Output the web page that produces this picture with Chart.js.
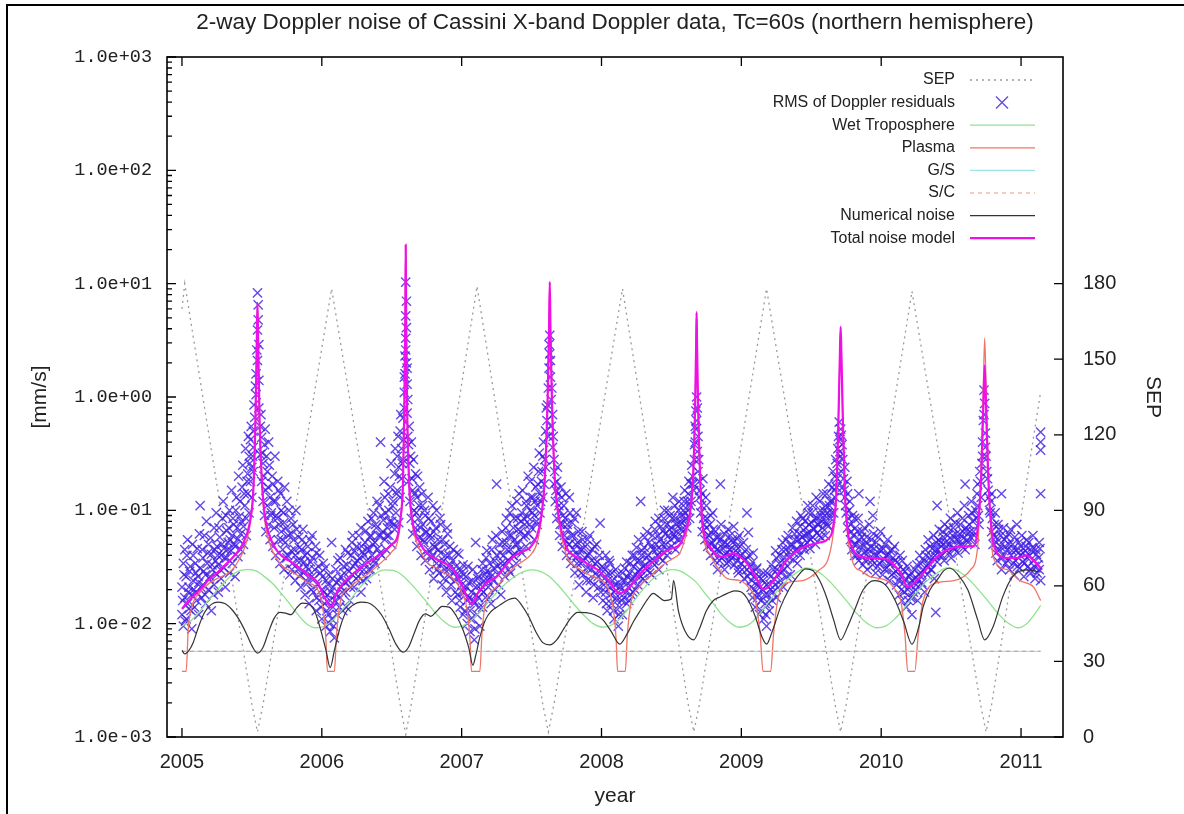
<!DOCTYPE html>
<html>
<head>
<meta charset="utf-8">
<title>Cassini Doppler noise</title>
<script src="https://cdn.jsdelivr.net/npm/chart.js@4.4.0/dist/chart.umd.min.js"></script>
<style>
  html, body { margin: 0; padding: 0; background: #fff; }
  #wrap { width: 1184px; height: 814px; }
</style>
</head>
<body>
<div id="wrap"><canvas id="myChart" width="1184" height="814"></canvas></div>
<script>
// tick labels
const yearTicks = [2005, 2006, 2007, 2008, 2009, 2010, 2011];
const decadeTicks = [1e-3, 1e-2, 1e-1, 1e0, 1e1, 1e2, 1e3];
const sepTicks = [0, 30, 60, 90, 120, 150, 180];

// Sun-Earth-Probe angle (deg), right axis
const sepYear = [2005.00, 2005.02, 2005.50, 2005.54, 2005.58, 2006.07, 2006.56, 2006.60, 2006.64, 2007.11, 2007.58, 2007.62, 2007.66,
  2008.15, 2008.62, 2008.66, 2008.70, 2009.18, 2009.67, 2009.71, 2009.75, 2010.22, 2010.71, 2010.75, 2010.79, 2011.14];
const sepValue = [170, 180, 13, 2, 13, 178, 13, 1, 13, 179, 13, 2, 13,
  178, 13, 2, 13, 178, 13, 2, 13, 177, 13, 2, 13, 137];

// total noise model (mm/s)
const totalYear = [2005.00, 2005.05, 2005.13, 2005.20, 2005.25, 2005.31, 2005.36, 2005.41, 2005.44, 2005.47, 2005.49, 2005.51, 2005.525, 2005.535, 2005.54, 2005.545, 2005.555, 2005.57, 2005.59, 2005.63, 2005.68, 2005.72, 2005.78, 2005.84, 2005.90, 2005.97,
  2006.02, 2006.07, 2006.10, 2006.13, 2006.20, 2006.26, 2006.32, 2006.38, 2006.44, 2006.50, 2006.54, 2006.565, 2006.58, 2006.59, 2006.597, 2006.60, 2006.603, 2006.61, 2006.625, 2006.645, 2006.70, 2006.76, 2006.82, 2006.88, 2006.94,
  2007.00, 2007.07, 2007.12, 2007.18, 2007.25, 2007.31, 2007.37, 2007.43, 2007.49, 2007.54, 2007.57, 2007.595, 2007.615, 2007.625, 2007.63, 2007.635, 2007.645, 2007.665, 2007.69, 2007.75, 2007.80, 2007.85, 2007.91, 2007.97,
  2008.05, 2008.13, 2008.20, 2008.27, 2008.33, 2008.39, 2008.44, 2008.50, 2008.56, 2008.60, 2008.635, 2008.655, 2008.67, 2008.677, 2008.68, 2008.683, 2008.69, 2008.705, 2008.72, 2008.78, 2008.84, 2008.90, 2008.94, 2008.99,
  2009.04, 2009.10, 2009.16, 2009.23, 2009.28, 2009.33, 2009.39, 2009.44, 2009.50, 2009.56, 2009.62, 2009.655, 2009.68, 2009.695, 2009.705, 2009.71, 2009.715, 2009.725, 2009.74, 2009.76, 2009.80, 2009.83, 2009.92,
  2010.04, 2010.10, 2010.14, 2010.19, 2010.24, 2010.28, 2010.34, 2010.40, 2010.46, 2010.52, 2010.60, 2010.66, 2010.69, 2010.715, 2010.73, 2010.74, 2010.75, 2010.765, 2010.79, 2010.83, 2010.90, 2010.97,
  2011.04, 2011.09, 2011.14];
const totalValue = [0.0135, 0.016, 0.020, 0.025, 0.028, 0.033, 0.038, 0.045, 0.052, 0.065, 0.085, 0.15, 0.6, 3.0, 6.8, 3.0, 0.6, 0.2, 0.095, 0.058, 0.044, 0.039, 0.035, 0.031, 0.027, 0.023,
  0.017, 0.014, 0.018, 0.021, 0.026, 0.030, 0.034, 0.038, 0.043, 0.050, 0.058, 0.09, 0.17, 0.8, 5, 22, 5, 0.8, 0.17, 0.085, 0.052, 0.041, 0.037, 0.034, 0.030,
  0.022, 0.015, 0.019, 0.023, 0.026, 0.032, 0.039, 0.043, 0.047, 0.060, 0.09, 0.2, 1.0, 4, 10.4, 4, 1.0, 0.2, 0.095, 0.047, 0.040, 0.037, 0.033, 0.030,
  0.024, 0.0185, 0.021, 0.027, 0.032, 0.037, 0.042, 0.046, 0.050, 0.065, 0.10, 0.2, 0.9, 3, 5.6, 3, 0.9, 0.2, 0.08, 0.047, 0.039, 0.040, 0.042, 0.039,
  0.034, 0.026, 0.020, 0.024, 0.030, 0.037, 0.043, 0.047, 0.050, 0.052, 0.056, 0.07, 0.15, 0.7, 2.5, 4.15, 2.5, 0.7, 0.15, 0.067, 0.045, 0.040, 0.038,
  0.037, 0.032, 0.028, 0.021, 0.023, 0.026, 0.032, 0.039, 0.044, 0.047, 0.048, 0.048, 0.07, 0.2, 0.8, 1.9, 0.8, 0.2, 0.067, 0.042, 0.038, 0.038,
  0.040, 0.036, 0.031];

// plasma noise (mm/s)
const plasmaYear = [2005.00, 2005.03, 2005.045, 2005.07, 2005.13, 2005.20, 2005.25, 2005.31, 2005.36, 2005.41, 2005.44, 2005.47, 2005.49, 2005.51, 2005.525, 2005.535, 2005.54, 2005.545, 2005.555, 2005.57, 2005.59, 2005.63, 2005.68, 2005.72, 2005.78, 2005.84, 2005.90, 2005.97,
  2006.01, 2006.03, 2006.04, 2006.09, 2006.105, 2006.13, 2006.20, 2006.26, 2006.32, 2006.38, 2006.44, 2006.50, 2006.54, 2006.565, 2006.58, 2006.59, 2006.597, 2006.60, 2006.603, 2006.61, 2006.625, 2006.645, 2006.70, 2006.76, 2006.82, 2006.88, 2006.94,
  2007.00, 2007.04, 2007.06, 2007.07, 2007.13, 2007.145, 2007.17, 2007.25, 2007.31, 2007.37, 2007.43, 2007.49, 2007.54, 2007.57, 2007.595, 2007.615, 2007.625, 2007.63, 2007.635, 2007.645, 2007.665, 2007.69, 2007.75, 2007.80, 2007.85, 2007.91, 2007.97,
  2008.05, 2008.09, 2008.105, 2008.115, 2008.17, 2008.185, 2008.21, 2008.27, 2008.33, 2008.39, 2008.44, 2008.50, 2008.56, 2008.60, 2008.635, 2008.655, 2008.67, 2008.677, 2008.68, 2008.683, 2008.69, 2008.705, 2008.72, 2008.78, 2008.84, 2008.90, 2008.99,
  2009.05, 2009.10, 2009.135, 2009.155, 2009.21, 2009.23, 2009.26, 2009.33, 2009.44, 2009.56, 2009.62, 2009.655, 2009.68, 2009.695, 2009.705, 2009.71, 2009.715, 2009.725, 2009.74, 2009.76, 2009.80, 2009.86, 2009.92,
  2010.04, 2010.10, 2010.14, 2010.17, 2010.19, 2010.24, 2010.265, 2010.30, 2010.40, 2010.52, 2010.64, 2010.69, 2010.715, 2010.73, 2010.74, 2010.75, 2010.765, 2010.80, 2010.90, 2010.99,
  2011.09, 2011.14];
const plasmaValue = [0.0038, 0.0038, 0.009, 0.014, 0.019, 0.023, 0.025, 0.027, 0.030, 0.037, 0.044, 0.058, 0.08, 0.14, 0.58, 2.9, 6.6, 2.9, 0.58, 0.19, 0.085, 0.050, 0.037, 0.032, 0.029, 0.026, 0.023, 0.020,
  0.013, 0.007, 0.0038, 0.0038, 0.008, 0.015, 0.021, 0.024, 0.027, 0.031, 0.036, 0.043, 0.052, 0.085, 0.16, 0.78, 4.9, 21.5, 4.9, 0.78, 0.16, 0.08, 0.045, 0.034, 0.031, 0.028, 0.025,
  0.019, 0.013, 0.007, 0.0038, 0.0038, 0.008, 0.015, 0.021, 0.026, 0.031, 0.035, 0.040, 0.052, 0.085, 0.19, 0.98, 3.9, 10.2, 3.9, 0.98, 0.19, 0.088, 0.040, 0.033, 0.030, 0.027, 0.025,
  0.020, 0.012, 0.007, 0.0038, 0.0038, 0.008, 0.015, 0.021, 0.025, 0.029, 0.033, 0.037, 0.042, 0.058, 0.095, 0.19, 0.88, 2.9, 5.5, 2.9, 0.88, 0.19, 0.075, 0.040, 0.030, 0.025, 0.024,
  0.021, 0.016, 0.008, 0.0038, 0.0038, 0.008, 0.016, 0.023, 0.024, 0.030, 0.037, 0.06, 0.14, 0.68, 2.4, 4.1, 2.4, 0.68, 0.14, 0.06, 0.034, 0.029, 0.026,
  0.024, 0.020, 0.016, 0.008, 0.0038, 0.0038, 0.008, 0.016, 0.023, 0.024, 0.030, 0.048, 0.25, 1.2, 3.3, 1.2, 0.25, 0.039, 0.030, 0.024,
  0.021, 0.016];

// wet troposphere (mm/s)
const wetYear = [2005.00, 2005.06, 2005.12, 2005.18, 2005.24, 2005.30, 2005.36, 2005.42, 2005.47, 2005.53, 2005.59, 2005.65, 2005.71, 2005.77, 2005.83, 2005.89, 2005.96,
  2006.02, 2006.08, 2006.14, 2006.20, 2006.26, 2006.32, 2006.38, 2006.45, 2006.51, 2006.57, 2006.63, 2006.69, 2006.75, 2006.81, 2006.88, 2006.95,
  2007.01, 2007.08, 2007.14, 2007.21, 2007.28, 2007.35, 2007.42, 2007.50, 2007.56, 2007.62, 2007.68, 2007.74, 2007.80, 2007.87, 2007.94,
  2008.01, 2008.07, 2008.13, 2008.19, 2008.25, 2008.31, 2008.37, 2008.43, 2008.50, 2008.56, 2008.62, 2008.68, 2008.74, 2008.80, 2008.86, 2008.92, 2008.98,
  2009.04, 2009.10, 2009.16, 2009.22, 2009.28, 2009.34, 2009.40, 2009.46, 2009.52, 2009.58, 2009.64, 2009.70, 2009.76, 2009.82, 2009.89, 2009.97,
  2010.03, 2010.09, 2010.15, 2010.21, 2010.27, 2010.33, 2010.40, 2010.47, 2010.53, 2010.59, 2010.65, 2010.71, 2010.77, 2010.83, 2010.90, 2010.98,
  2011.04, 2011.09, 2011.14];
const wetValue = [0.0095, 0.0105, 0.0125, 0.0155, 0.019, 0.023, 0.027, 0.0295, 0.030, 0.0292, 0.026, 0.0225, 0.0185, 0.015, 0.012, 0.010, 0.0092,
  0.0095, 0.0108, 0.013, 0.016, 0.020, 0.024, 0.0275, 0.0298, 0.0295, 0.027, 0.023, 0.019, 0.0155, 0.0125, 0.0103, 0.0093,
  0.0096, 0.011, 0.0132, 0.0165, 0.0205, 0.0245, 0.028, 0.0298, 0.029, 0.0265, 0.0225, 0.0185, 0.015, 0.012, 0.0100,
  0.0093, 0.0097, 0.011, 0.0135, 0.017, 0.021, 0.025, 0.028, 0.030, 0.0292, 0.0265, 0.023, 0.0185, 0.015, 0.012, 0.0102, 0.0093,
  0.0096, 0.011, 0.0135, 0.017, 0.021, 0.025, 0.0285, 0.031, 0.030, 0.027, 0.023, 0.019, 0.0155, 0.0125, 0.0103, 0.0092,
  0.0095, 0.0108, 0.013, 0.0163, 0.020, 0.024, 0.028, 0.031, 0.030, 0.027, 0.023, 0.019, 0.0155, 0.0125, 0.0103, 0.0092,
  0.0100, 0.0118, 0.0145];

// numerical noise (mm/s)
const numYear = [2005.00, 2005.02, 2005.05, 2005.08, 2005.12, 2005.16, 2005.21, 2005.26, 2005.31, 2005.36, 2005.41, 2005.46, 2005.50, 2005.54, 2005.58, 2005.62, 2005.66, 2005.70, 2005.74, 2005.78, 2005.82, 2005.86, 2005.90, 2005.95, 2005.99,
  2006.03, 2006.06, 2006.09, 2006.13, 2006.17, 2006.22, 2006.28, 2006.33, 2006.38, 2006.43, 2006.48, 2006.53, 2006.58, 2006.62, 2006.66, 2006.70, 2006.74, 2006.78, 2006.82, 2006.86, 2006.91, 2006.96,
  2007.01, 2007.05, 2007.08, 2007.10, 2007.13, 2007.17, 2007.21, 2007.27, 2007.33, 2007.38, 2007.43, 2007.48, 2007.53, 2007.58, 2007.63, 2007.68, 2007.73, 2007.78, 2007.83, 2007.89, 2007.95,
  2008.01, 2008.07, 2008.13, 2008.18, 2008.23, 2008.28, 2008.33, 2008.37, 2008.41, 2008.45, 2008.50, 2008.515, 2008.55, 2008.60, 2008.66, 2008.70, 2008.75, 2008.80, 2008.85, 2008.90, 2008.95,
  2009.00, 2009.05, 2009.10, 2009.15, 2009.18, 2009.22, 2009.28, 2009.34, 2009.40, 2009.46, 2009.51, 2009.56, 2009.61, 2009.66, 2009.71, 2009.76, 2009.81, 2009.87, 2009.95,
  2010.03, 2010.10, 2010.16, 2010.22, 2010.27, 2010.30, 2010.35, 2010.40, 2010.45, 2010.49, 2010.55, 2010.62, 2010.69, 2010.74, 2010.80, 2010.87, 2010.94,
  2011.04, 2011.14];
const numValue = [0.0058, 0.0054, 0.0058, 0.0068, 0.0095, 0.0125, 0.0148, 0.0155, 0.0150, 0.0132, 0.0108, 0.0082, 0.0064, 0.0055, 0.0062, 0.0085, 0.0112, 0.0126, 0.0124, 0.0120, 0.0138, 0.0152, 0.0150, 0.0128, 0.0090,
  0.0058, 0.0041, 0.0058, 0.0092, 0.0125, 0.0145, 0.0155, 0.0153, 0.0140, 0.0118, 0.0090, 0.0066, 0.0056, 0.0062, 0.0082, 0.0108, 0.0122, 0.0116, 0.0128, 0.0142, 0.0140, 0.0118,
  0.0088, 0.0062, 0.0043, 0.0052, 0.0076, 0.0108, 0.0128, 0.0145, 0.0162, 0.0168, 0.0145, 0.0115, 0.0085, 0.0068, 0.0065, 0.0072, 0.0090, 0.0112, 0.0126, 0.0125, 0.0120,
  0.0108, 0.0085, 0.0066, 0.0080, 0.0105, 0.0132, 0.0165, 0.0185, 0.0172, 0.0160, 0.0165, 0.0240, 0.0130, 0.0085, 0.0072, 0.0090, 0.0130, 0.0160, 0.0173, 0.0185, 0.0195,
  0.0190, 0.0160, 0.0115, 0.0075, 0.0066, 0.0085, 0.0140, 0.0200, 0.0260, 0.0305, 0.0295, 0.0240, 0.0170, 0.0108, 0.0072, 0.0094, 0.0132, 0.0198, 0.0240,
  0.0220, 0.0160, 0.0105, 0.0066, 0.0095, 0.0141, 0.0200, 0.0243, 0.0295, 0.0310, 0.0270, 0.0198, 0.0108, 0.0072, 0.0094, 0.0174, 0.0260,
  0.0298, 0.0285];

// ground station and spacecraft noise (mm/s)
const gsYear = [2005.00, 2011.14];
const gsValue = [0.0057, 0.0057];
const scYear = [2005.00, 2011.14];
const scValue = [0.0057, 0.0057];

// RMS of Doppler residuals [year, mm/s], grouped by conjunction / opposition passes
const conj2005 = [[2005.00,0.021],[2005.00,0.012],[2005.01,0.034],[2005.01,0.0095],[2005.02,0.017],[2005.02,0.045],[2005.03,0.026],[2005.03,0.011],[2005.04,0.015],[2005.04,0.055],[2005.05,0.021],[2005.05,0.0135],[2005.06,0.032],[2005.07,0.018],[2005.07,0.009],[2005.08,0.024],[2005.08,0.040],[2005.09,0.014],[2005.10,0.028],[2005.10,0.019],[2005.11,0.046],[2005.12,0.012],[2005.12,0.023],[2005.13,0.11],[2005.13,0.031],[2005.14,0.017],[2005.15,0.038],[2005.15,0.022],[2005.16,0.060],[2005.17,0.027],[2005.17,0.015],[2005.18,0.034],[2005.19,0.020],[2005.19,0.050],[2005.20,0.026],[2005.21,0.041],[2005.21,0.013],[2005.22,0.030],[2005.23,0.022],[2005.23,0.070],[2005.24,0.036],[2005.25,0.027],[2005.25,0.048],
  [2005.26,0.033],[2005.26,0.019],[2005.27,0.058],[2005.28,0.040],[2005.28,0.025],[2005.29,0.085],[2005.30,0.046],[2005.30,0.031],[2005.31,0.021],[2005.32,0.066],[2005.32,0.038],[2005.33,0.052],[2005.34,0.028],[2005.34,0.10],[2005.35,0.044],[2005.36,0.060],[2005.36,0.034],[2005.37,0.075],[2005.38,0.048],[2005.38,0.026],[2005.39,0.13],[2005.40,0.056],[2005.40,0.039],[2005.41,0.088],[2005.42,0.062],[2005.42,0.045],[2005.43,0.16],[2005.44,0.072],[2005.44,0.050],[2005.45,0.11],[2005.46,0.085],[2005.46,0.060],[2005.47,0.21],[2005.47,0.14],[2005.48,0.095],[2005.48,0.30],[2005.49,0.18],[2005.49,0.42],[2005.50,0.24],[2005.50,0.13],[2005.51,0.50],[2005.51,0.36],[2005.51,0.22],
  [2005.52,0.66],[2005.53,1.05],[2005.53,1.6],[2005.535,2.6],[2005.54,3.9],[2005.54,8.3],[2005.545,6.5],[2005.54,2.1],[2005.55,1.4],[2005.55,0.80],[2005.56,0.55],[2005.56,0.31],
  [2005.57,0.44],[2005.57,0.18],[2005.58,0.26],[2005.58,0.12],[2005.59,0.38],[2005.59,0.09],[2005.60,0.15],[2005.60,0.065],[2005.61,0.22],[2005.61,0.11],[2005.62,0.075],[2005.62,0.40],[2005.63,0.13],[2005.63,0.055],[2005.64,0.095],[2005.65,0.17],[2005.65,0.048],[2005.66,0.070],[2005.67,0.12],[2005.67,0.040],[2005.68,0.085],[2005.69,0.055],[2005.69,0.15],[2005.70,0.034],[2005.71,0.065],[2005.71,0.10],[2005.72,0.045],[2005.73,0.030],[2005.73,0.078],[2005.74,0.052],[2005.75,0.038],[2005.75,0.12],[2005.76,0.060],[2005.77,0.027],[2005.78,0.044],[2005.78,0.085],[2005.79,0.034],[2005.80,0.055],[2005.81,0.024],[2005.81,0.040],[2005.82,0.068],[2005.83,0.030],[2005.84,0.047],[2005.85,0.021],[2005.85,0.036]];
const conj2005b = [[2005.005,0.016],[2005.015,0.027],[2005.025,0.0105],[2005.035,0.040],[2005.045,0.019],[2005.055,0.029],[2005.065,0.013],[2005.075,0.050],[2005.085,0.020],[2005.095,0.034],[2005.105,0.016],[2005.115,0.026],[2005.125,0.062],[2005.135,0.021],[2005.145,0.045],[2005.155,0.029],[2005.165,0.018],[2005.175,0.080],[2005.185,0.042],[2005.195,0.025],[2005.205,0.057],[2005.215,0.033],[2005.225,0.018],[2005.235,0.045],[2005.245,0.095],[2005.255,0.040],[2005.265,0.070],[2005.275,0.030],[2005.285,0.050],[2005.295,0.12],[2005.305,0.038],[2005.315,0.090],[2005.325,0.045],[2005.335,0.070],[2005.345,0.055],[2005.355,0.15],[2005.365,0.085],[2005.375,0.050],[2005.385,0.10],[2005.395,0.070],[2005.405,0.20],[2005.415,0.12],[2005.425,0.080],[2005.435,0.25],[2005.445,0.14],[2005.455,0.35],[2005.465,0.18],[2005.475,0.45],[2005.485,0.26],[2005.495,0.55],[2005.505,0.30],[2005.515,0.85],[2005.525,1.25],[2005.545,4.8],[2005.55,2.9],
  [2005.565,0.70],[2005.575,0.32],[2005.585,0.20],[2005.595,0.52],[2005.605,0.30],[2005.615,0.16],[2005.625,0.25],[2005.635,0.09],[2005.645,0.20],[2005.655,0.12],[2005.665,0.30],[2005.675,0.09],[2005.685,0.18],[2005.695,0.075],[2005.705,0.14],[2005.715,0.055],[2005.725,0.095],[2005.735,0.16],[2005.745,0.070],[2005.755,0.040],[2005.765,0.10],[2005.775,0.062],[2005.785,0.030],[2005.795,0.075],[2005.805,0.045],[2005.815,0.100],[2005.825,0.036],[2005.835,0.058],[2005.845,0.027],[2005.855,0.045]];
const opp2006 = [[2005.86,0.055],[2005.87,0.028],[2005.88,0.040],[2005.88,0.018],[2005.89,0.032],[2005.90,0.048],[2005.90,0.023],[2005.91,0.015],[2005.92,0.035],[2005.93,0.026],[2005.93,0.060],[2005.94,0.019],[2005.95,0.030],[2005.96,0.013],[2005.96,0.042],[2005.97,0.022],[2005.98,0.016],[2005.99,0.028],[2006.00,0.011],[2006.00,0.020],[2006.01,0.034],[2006.02,0.015],[2006.03,0.024],[2006.03,0.0095],[2006.04,0.018],[2006.05,0.012],[2006.05,0.027],[2006.06,0.0085],[2006.06,0.016],[2006.07,0.052],[2006.07,0.011],[2006.08,0.021],[2006.08,0.014],[2006.09,0.0075],[2006.10,0.018],[2006.10,0.030],[2006.11,0.012],[2006.12,0.024],[2006.13,0.017],[2006.13,0.038],[2006.14,0.021],[2006.15,0.013],[2006.16,0.028],[2006.17,0.045],[2006.17,0.019],[2006.18,0.033],[2006.19,0.024],[2006.20,0.016],[2006.21,0.040],[2006.22,0.027],[2006.22,0.060],[2006.23,0.021],[2006.24,0.034],[2006.25,0.048],[2006.26,0.026],[2006.27,0.038],[2006.28,0.019],[2006.28,0.070],[2006.29,0.043],[2006.30,0.030],
  [2005.865,0.068],[2005.875,0.035],[2005.885,0.024],[2005.895,0.042],[2005.905,0.030],[2005.915,0.055],[2005.925,0.020],[2005.935,0.038],[2005.945,0.025],[2005.955,0.048],[2005.965,0.017],[2005.975,0.032],[2005.985,0.040],[2005.995,0.014],[2006.005,0.026],[2006.015,0.019],[2006.025,0.031],[2006.035,0.013],[2006.045,0.022],[2006.055,0.010],[2006.065,0.019],[2006.075,0.025],[2006.085,0.0095],[2006.095,0.016],[2006.105,0.023],[2006.115,0.036],[2006.125,0.014],[2006.135,0.026],[2006.145,0.019],[2006.155,0.032],[2006.165,0.023],[2006.175,0.014],[2006.185,0.042],[2006.195,0.029],[2006.205,0.021],[2006.215,0.052],[2006.225,0.032],[2006.235,0.044],[2006.245,0.025],[2006.255,0.036],[2006.265,0.060],[2006.275,0.030],[2006.285,0.048],[2006.295,0.024]];
const conj2006 = [[2006.31,0.052],[2006.32,0.025],[2006.32,0.036],[2006.33,0.080],[2006.34,0.045],[2006.35,0.030],[2006.35,0.060],[2006.36,0.040],[2006.37,0.095],[2006.38,0.052],[2006.38,0.034],[2006.39,0.070],[2006.40,0.046],[2006.41,0.11],[2006.42,0.40],[2006.42,0.060],[2006.43,0.040],[2006.44,0.082],[2006.45,0.055],[2006.45,0.13],[2006.46,0.045],[2006.47,0.070],[2006.48,0.10],[2006.48,0.060],[2006.49,0.16],[2006.50,0.080],[2006.50,0.050],[2006.51,0.12],[2006.52,0.21],[2006.52,0.068],[2006.53,0.095],[2006.54,0.30],[2006.54,0.15],[2006.55,0.078],[2006.55,0.24],[2006.56,0.50],[2006.56,0.13],[2006.57,0.35],[2006.57,0.19],[2006.58,0.65],[2006.58,0.28],
  [2006.59,1.1],[2006.59,0.8],[2006.595,1.6],[2006.595,2.3],[2006.60,3.3],[2006.60,5.2],[2006.60,10.3],[2006.605,7.0],[2006.605,2.0],[2006.61,1.3],[2006.61,0.72],[2006.615,0.45],
  [2006.62,0.38],[2006.62,0.18],[2006.63,0.26],[2006.63,0.12],[2006.64,0.40],[2006.64,0.085],[2006.65,0.15],[2006.65,0.062],[2006.66,0.10],[2006.67,0.21],[2006.67,0.070],[2006.68,0.048],[2006.68,0.13],[2006.69,0.085],[2006.70,0.058],[2006.70,0.16],[2006.71,0.040],[2006.72,0.075],[2006.72,0.11],[2006.73,0.052],[2006.74,0.036],[2006.74,0.090],[2006.75,0.064],[2006.76,0.045],[2006.76,0.13],[2006.77,0.030],[2006.78,0.056],[2006.78,0.080],[2006.79,0.040],[2006.80,0.025],[2006.80,0.065],[2006.81,0.047],[2006.82,0.10],[2006.82,0.034],[2006.83,0.055],[2006.84,0.028],[2006.85,0.042],[2006.85,0.075],[2006.86,0.022],[2006.87,0.036],[2006.88,0.050],[2006.88,0.030],[2006.89,0.019],[2006.90,0.062],[2006.91,0.040],[2006.91,0.026],[2006.92,0.033],[2006.93,0.016],[2006.94,0.045],[2006.95,0.024]];
const conj2006b = [[2006.305,0.040],[2006.315,0.066],[2006.325,0.046],[2006.335,0.030],[2006.345,0.058],[2006.355,0.085],[2006.365,0.050],[2006.375,0.036],[2006.385,0.075],[2006.395,0.12],[2006.405,0.060],[2006.415,0.042],[2006.425,0.090],[2006.435,0.065],[2006.445,0.18],[2006.455,0.095],[2006.465,0.060],[2006.475,0.14],[2006.485,0.080],[2006.495,0.26],[2006.505,0.11],[2006.515,0.075],[2006.525,0.35],[2006.535,0.14],[2006.545,0.45],[2006.555,0.20],[2006.565,0.70],[2006.575,0.26],[2006.585,0.42],[2006.59,1.5],[2006.60,2.6],[2006.605,4.1],[2006.61,1.8],[2006.615,0.95],[2006.625,0.55],[2006.635,0.30],[2006.645,0.19],[2006.655,0.28],[2006.665,0.14],[2006.675,0.095],[2006.685,0.20],[2006.695,0.11],[2006.705,0.070],[2006.715,0.14],[2006.725,0.055],[2006.735,0.10],[2006.745,0.065],[2006.755,0.042],[2006.765,0.085],[2006.775,0.060],[2006.785,0.038],[2006.795,0.11],[2006.805,0.048],[2006.815,0.070],[2006.825,0.030],[2006.835,0.045],[2006.845,0.085],[2006.855,0.034],[2006.865,0.055],[2006.875,0.025],[2006.885,0.040],[2006.895,0.070],[2006.905,0.030],[2006.915,0.048],[2006.925,0.022],[2006.935,0.036],[2006.945,0.028]];
const opp2007 = [[2006.96,0.032],[2006.97,0.018],[2006.98,0.027],[2006.98,0.041],[2006.99,0.014],[2007.00,0.022],[2007.01,0.033],[2007.01,0.012],[2007.02,0.019],[2007.03,0.026],[2007.04,0.010],[2007.04,0.016],[2007.05,0.023],[2007.06,0.0085],[2007.06,0.013],[2007.07,0.019],[2007.08,0.011],[2007.08,0.030],[2007.09,0.0072],[2007.09,0.015],[2007.10,0.052],[2007.10,0.021],[2007.11,0.012],[2007.12,0.017],[2007.12,0.026],[2007.13,0.0095],[2007.14,0.020],[2007.15,0.014],[2007.15,0.034],[2007.16,0.024],[2007.17,0.017],[2007.18,0.029],[2007.18,0.044],[2007.19,0.021],[2007.20,0.034],[2007.21,0.015],[2007.21,0.026],[2007.22,0.055],[2007.23,0.031],[2007.24,0.020],[2007.25,0.040],[2007.25,0.17],[2007.26,0.027],[2007.27,0.050],[2007.28,0.034],[2007.28,0.018],[2007.29,0.065],[2007.30,0.040],
  [2006.955,0.019],[2006.965,0.042],[2006.975,0.025],[2006.985,0.016],[2006.995,0.030],[2007.005,0.019],[2007.015,0.027],[2007.025,0.013],[2007.035,0.021],[2007.045,0.032],[2007.055,0.017],[2007.065,0.011],[2007.075,0.024],[2007.085,0.016],[2007.095,0.009],[2007.105,0.018],[2007.115,0.025],[2007.125,0.014],[2007.135,0.022],[2007.145,0.030],[2007.155,0.019],[2007.165,0.027],[2007.175,0.038],[2007.185,0.024],[2007.195,0.017],[2007.205,0.028],[2007.215,0.045],[2007.225,0.024],[2007.235,0.036],[2007.245,0.060],[2007.255,0.032],[2007.265,0.022],[2007.275,0.042],[2007.285,0.030],[2007.295,0.052]];
const conj2007 = [[2007.31,0.026],[2007.32,0.052],[2007.32,0.085],[2007.33,0.036],[2007.34,0.060],[2007.35,0.028],[2007.35,0.045],[2007.36,0.11],[2007.37,0.070],[2007.37,0.040],[2007.38,0.055],[2007.39,0.034],[2007.40,0.085],[2007.40,0.050],[2007.41,0.14],[2007.42,0.065],[2007.43,0.042],[2007.43,0.095],[2007.44,0.058],[2007.45,0.075],[2007.46,0.12],[2007.46,0.048],[2007.47,0.088],[2007.48,0.062],[2007.49,0.18],[2007.49,0.10],[2007.50,0.070],[2007.51,0.13],[2007.52,0.055],[2007.52,0.090],[2007.53,0.16],[2007.54,0.11],[2007.54,0.075],[2007.55,0.22],[2007.56,0.14],[2007.56,0.095],[2007.57,0.18],[2007.58,0.13],[2007.58,0.30],[2007.59,0.17],[2007.60,0.24],[2007.60,0.50],
  [2007.61,0.62],[2007.615,0.85],[2007.62,1.2],[2007.62,0.45],[2007.625,1.8],[2007.63,2.4],[2007.63,3.5],[2007.635,1.5],[2007.64,0.95],[2007.64,0.55],[2007.65,0.36],[2007.65,0.7],
  [2007.66,0.17],[2007.66,0.28],[2007.67,0.12],[2007.68,0.18],[2007.68,0.085],[2007.69,0.14],[2007.70,0.060],[2007.70,0.10],[2007.71,0.16],[2007.72,0.075],[2007.72,0.048],[2007.73,0.11],[2007.74,0.055],[2007.74,0.085],[2007.75,0.040],[2007.76,0.068],[2007.77,0.13],[2007.77,0.050],[2007.78,0.034],[2007.79,0.078],[2007.80,0.045],[2007.80,0.060],[2007.81,0.028],[2007.82,0.095],[2007.83,0.040],[2007.83,0.052],[2007.84,0.022],[2007.85,0.034],[2007.86,0.065],[2007.86,0.045],[2007.87,0.027],[2007.88,0.038],[2007.89,0.019],[2007.90,0.055],[2007.90,0.031],[2007.91,0.042],[2007.92,0.024],[2007.93,0.036],[2007.94,0.017],[2007.95,0.048],[2007.96,0.028],[2007.97,0.035],[2007.98,0.021],[2007.99,0.077],[2008.00,0.030]];
const conj2007b = [[2007.305,0.034],[2007.315,0.070],[2007.325,0.045],[2007.335,0.030],[2007.345,0.095],[2007.355,0.060],[2007.365,0.040],[2007.375,0.085],[2007.385,0.050],[2007.395,0.12],[2007.405,0.068],[2007.415,0.045],[2007.425,0.080],[2007.435,0.15],[2007.445,0.085],[2007.455,0.060],[2007.465,0.11],[2007.475,0.20],[2007.485,0.075],[2007.495,0.13],[2007.505,0.095],[2007.515,0.24],[2007.525,0.12],[2007.535,0.080],[2007.545,0.17],[2007.555,0.32],[2007.565,0.12],[2007.575,0.22],[2007.585,0.40],[2007.595,0.28],[2007.605,0.80],[2007.625,2.9],[2007.635,2.1],[2007.645,1.2],[2007.655,0.45],[2007.665,0.22],[2007.675,0.15],[2007.685,0.24],[2007.695,0.11],[2007.705,0.075],[2007.715,0.13],[2007.725,0.090],[2007.735,0.060],[2007.745,0.14],[2007.755,0.075],[2007.765,0.050],[2007.775,0.095],[2007.785,0.060],[2007.795,0.040],[2007.805,0.085],[2007.815,0.050],[2007.825,0.034],[2007.835,0.065],[2007.845,0.045],[2007.855,0.028],[2007.865,0.055],[2007.875,0.036],[2007.885,0.048],[2007.895,0.024],[2007.905,0.040],[2007.915,0.060],[2007.925,0.030],[2007.935,0.045],[2007.945,0.022],[2007.955,0.034],[2007.965,0.050],[2007.975,0.026],[2007.985,0.040],[2007.995,0.019]];
const opp2008 = [[2008.01,0.016],[2008.02,0.025],[2008.03,0.040],[2008.03,0.019],[2008.04,0.013],[2008.05,0.028],[2008.06,0.021],[2008.06,0.034],[2008.07,0.015],[2008.08,0.024],[2008.09,0.011],[2008.09,0.019],[2008.10,0.030],[2008.11,0.016],[2008.12,0.023],[2008.12,0.0095],[2008.13,0.014],[2008.14,0.020],[2008.15,0.028],[2008.15,0.012],[2008.16,0.017],[2008.17,0.024],[2008.18,0.035],[2008.18,0.015],[2008.19,0.021],[2008.20,0.028],[2008.21,0.018],[2008.22,0.040],[2008.22,0.025],[2008.23,0.032],[2008.24,0.020],[2008.25,0.047],[2008.26,0.029],[2008.26,0.022],[2008.27,0.036],[2008.28,0.12],[2008.28,0.026],[2008.29,0.044],[2008.30,0.032],[2008.31,0.058],[2008.31,0.024],[2008.32,0.038],[2008.33,0.030],[2008.34,0.052],[2008.35,0.036],
  [2008.005,0.032],[2008.015,0.022],[2008.025,0.030],[2008.035,0.015],[2008.045,0.024],[2008.055,0.036],[2008.065,0.018],[2008.075,0.028],[2008.085,0.013],[2008.095,0.022],[2008.105,0.017],[2008.115,0.027],[2008.125,0.012],[2008.135,0.021],[2008.145,0.016],[2008.155,0.024],[2008.165,0.031],[2008.175,0.019],[2008.185,0.026],[2008.195,0.016],[2008.205,0.034],[2008.215,0.024],[2008.225,0.019],[2008.235,0.040],[2008.245,0.027],[2008.255,0.035],[2008.265,0.055],[2008.275,0.030],[2008.285,0.040],[2008.295,0.025],[2008.305,0.047],[2008.315,0.033],[2008.325,0.065],[2008.335,0.040],[2008.345,0.028]];
const conj2008 = [[2008.36,0.027],[2008.37,0.045],[2008.38,0.068],[2008.38,0.033],[2008.39,0.050],[2008.40,0.040],[2008.41,0.085],[2008.41,0.030],[2008.42,0.055],[2008.43,0.044],[2008.44,0.066],[2008.44,0.036],[2008.45,0.10],[2008.46,0.050],[2008.47,0.075],[2008.47,0.040],[2008.48,0.060],[2008.49,0.090],[2008.50,0.048],[2008.50,0.070],[2008.51,0.13],[2008.52,0.058],[2008.53,0.085],[2008.53,0.045],[2008.54,0.065],[2008.55,0.10],[2008.56,0.075],[2008.56,0.055],[2008.57,0.090],[2008.58,0.065],[2008.59,0.12],[2008.59,0.080],[2008.60,0.095],[2008.61,0.070],[2008.62,0.14],[2008.62,0.10],[2008.63,0.085],[2008.64,0.17],[2008.64,0.12],[2008.65,0.20],[2008.66,0.15],
  [2008.665,0.28],[2008.67,0.40],[2008.67,0.55],[2008.675,0.75],[2008.68,1.0],[2008.68,0.62],[2008.685,0.33],[2008.69,0.22],[2008.69,0.45],
  [2008.70,0.13],[2008.70,0.18],[2008.71,0.095],[2008.72,0.14],[2008.72,0.065],[2008.73,0.085],[2008.74,0.055],[2008.75,0.11],[2008.75,0.070],[2008.76,0.048],[2008.77,0.060],[2008.78,0.090],[2008.78,0.040],[2008.79,0.052],[2008.80,0.068],[2008.81,0.036],[2008.81,0.048],[2008.82,0.058],[2008.83,0.030],[2008.84,0.044],[2008.85,0.17],[2008.85,0.055],[2008.86,0.038],[2008.87,0.046],[2008.88,0.030],[2008.88,0.062],[2008.89,0.041],[2008.90,0.050],[2008.91,0.035],[2008.92,0.045],[2008.92,0.060],[2008.93,0.038],[2008.94,0.052],[2008.95,0.033],[2008.96,0.044],[2008.97,0.056],[2008.97,0.036],[2008.98,0.028],[2008.99,0.048],[2009.00,0.034],[2009.01,0.041],[2009.02,0.025],[2009.03,0.037],[2009.04,0.095],[2009.04,0.030],[2009.05,0.064]];
const conj2008b = [[2008.355,0.048],[2008.365,0.060],[2008.375,0.036],[2008.385,0.080],[2008.395,0.045],[2008.405,0.060],[2008.415,0.038],[2008.425,0.072],[2008.435,0.050],[2008.445,0.085],[2008.455,0.062],[2008.465,0.045],[2008.475,0.10],[2008.485,0.068],[2008.495,0.055],[2008.505,0.085],[2008.515,0.062],[2008.525,0.11],[2008.535,0.075],[2008.545,0.055],[2008.555,0.12],[2008.565,0.080],[2008.575,0.068],[2008.585,0.10],[2008.595,0.15],[2008.605,0.085],[2008.615,0.12],[2008.625,0.18],[2008.635,0.11],[2008.645,0.25],[2008.655,0.17],[2008.665,0.38],[2008.675,0.52],[2008.685,0.80],[2008.695,0.28],[2008.705,0.15],[2008.715,0.11],[2008.725,0.19],[2008.735,0.075],[2008.745,0.13],[2008.755,0.085],[2008.765,0.060],[2008.775,0.075],[2008.785,0.050],[2008.795,0.095],[2008.805,0.042],[2008.815,0.065],[2008.825,0.045],[2008.835,0.058],[2008.845,0.036],[2008.855,0.075],[2008.865,0.050],[2008.875,0.040],[2008.885,0.052],[2008.895,0.034],[2008.905,0.068],[2008.915,0.045],[2008.925,0.040],[2008.935,0.055],[2008.945,0.072],[2008.955,0.040],[2008.965,0.048],[2008.975,0.030],[2008.985,0.060],[2008.995,0.040],[2009.005,0.030],[2009.015,0.052],[2009.025,0.036],[2009.035,0.045],[2009.045,0.026],[2009.055,0.040]];
const opp2009 = [[2009.06,0.028],[2009.07,0.021],[2009.08,0.035],[2009.08,0.017],[2009.09,0.026],[2009.10,0.014],[2009.11,0.022],[2009.11,0.031],[2009.12,0.018],[2009.13,0.012],[2009.14,0.025],[2009.14,0.016],[2009.15,0.020],[2009.16,0.011],[2009.16,0.028],[2009.17,0.015],[2009.18,0.022],[2009.18,0.0095],[2009.19,0.018],[2009.20,0.013],[2009.21,0.026],[2009.21,0.020],[2009.22,0.016],[2009.23,0.030],[2009.24,0.022],[2009.25,0.038],[2009.25,0.017],[2009.26,0.027],[2009.27,0.034],[2009.28,0.024],[2009.29,0.045],[2009.30,0.030],[2009.30,0.021],[2009.31,0.038],[2009.32,0.055],[2009.33,0.032],[2009.34,0.043],[2009.35,0.027],[2009.36,0.050],[2009.37,0.037],[2009.38,0.062],[2009.39,0.045],[2009.40,0.034],
  [2009.065,0.032],[2009.075,0.024],[2009.085,0.042],[2009.095,0.020],[2009.105,0.030],[2009.115,0.017],[2009.125,0.026],[2009.135,0.021],[2009.145,0.013],[2009.155,0.024],[2009.165,0.018],[2009.175,0.012],[2009.185,0.028],[2009.195,0.015],[2009.205,0.022],[2009.215,0.033],[2009.225,0.019],[2009.235,0.025],[2009.245,0.044],[2009.255,0.030],[2009.265,0.021],[2009.275,0.040],[2009.285,0.028],[2009.295,0.052],[2009.305,0.035],[2009.315,0.045],[2009.325,0.026],[2009.335,0.060],[2009.345,0.038],[2009.355,0.048],[2009.365,0.070],[2009.375,0.042],[2009.385,0.055],[2009.395,0.080]];
const conj2009 = [[2009.41,0.055],[2009.42,0.072],[2009.42,0.040],[2009.43,0.050],[2009.44,0.085],[2009.45,0.060],[2009.45,0.045],[2009.46,0.070],[2009.47,0.052],[2009.48,0.095],[2009.48,0.062],[2009.49,0.046],[2009.50,0.078],[2009.51,0.058],[2009.51,0.11],[2009.52,0.068],[2009.53,0.050],[2009.54,0.085],[2009.54,0.063],[2009.55,0.075],[2009.56,0.12],[2009.57,0.058],[2009.57,0.090],[2009.58,0.070],[2009.59,0.10],[2009.60,0.080],[2009.60,0.060],[2009.61,0.14],[2009.62,0.095],[2009.62,0.072],[2009.63,0.11],[2009.64,0.085],[2009.65,0.16],[2009.65,0.12],[2009.66,0.095],[2009.67,0.20],[2009.67,0.13],[2009.68,0.16],
  [2009.685,0.26],[2009.69,0.35],[2009.695,0.45],[2009.70,0.60],[2009.705,0.42],[2009.71,0.30],[2009.71,0.52],[2009.715,0.22],[2009.72,0.38],[2009.725,0.16],
  [2009.73,0.19],[2009.74,0.13],[2009.74,0.24],[2009.75,0.095],[2009.76,0.14],[2009.76,0.070],[2009.77,0.10],[2009.78,0.055],[2009.78,0.075],[2009.79,0.045],[2009.80,0.060],[2009.81,0.085],[2009.81,0.040],[2009.82,0.050],[2009.83,0.065],[2009.84,0.036],[2009.84,0.14],[2009.85,0.048],[2009.86,0.058],[2009.87,0.033],[2009.88,0.042],[2009.88,0.070],[2009.89,0.052],[2009.90,0.030],[2009.91,0.045],[2009.92,0.12],[2009.92,0.038],[2009.93,0.055],[2009.94,0.090],[2009.94,0.033],[2009.95,0.046],[2009.96,0.028],[2009.97,0.040],[2009.98,0.058],[2009.99,0.034],[2010.00,0.044],[2010.01,0.027],[2010.02,0.037],[2010.03,0.050],[2010.04,0.031],[2010.05,0.040],[2010.06,0.024],[2010.07,0.034],[2010.08,0.045],[2010.09,0.028],[2010.10,0.036]];
const conj2009b = [[2009.405,0.045],[2009.415,0.062],[2009.425,0.090],[2009.435,0.058],[2009.445,0.048],[2009.455,0.080],[2009.465,0.062],[2009.475,0.11],[2009.485,0.075],[2009.495,0.055],[2009.505,0.095],[2009.515,0.070],[2009.525,0.085],[2009.535,0.13],[2009.545,0.075],[2009.555,0.060],[2009.565,0.10],[2009.575,0.080],[2009.585,0.14],[2009.595,0.090],[2009.605,0.11],[2009.615,0.075],[2009.625,0.17],[2009.635,0.12],[2009.645,0.095],[2009.655,0.22],[2009.665,0.15],[2009.675,0.28],[2009.685,0.19],[2009.705,0.33],[2009.715,0.46],[2009.725,0.28],[2009.735,0.15],[2009.745,0.11],[2009.755,0.18],[2009.765,0.085],[2009.775,0.12],[2009.785,0.065],[2009.795,0.090],[2009.805,0.050],[2009.815,0.070],[2009.825,0.040],[2009.835,0.085],[2009.845,0.055],[2009.855,0.040],[2009.865,0.065],[2009.875,0.048],[2009.885,0.036],[2009.895,0.058],[2009.905,0.042],[2009.915,0.075],[2009.925,0.048],[2009.935,0.036],[2009.945,0.062],[2009.955,0.040],[2009.965,0.052],[2009.975,0.032],[2009.985,0.045],[2009.995,0.065],[2010.005,0.036],[2010.015,0.046],[2010.025,0.030],[2010.035,0.040],[2010.045,0.055],[2010.055,0.034],[2010.065,0.044],[2010.075,0.027],[2010.085,0.038],[2010.095,0.048],[2010.105,0.029]];
const opp2010 = [[2010.11,0.022],[2010.12,0.030],[2010.13,0.018],[2010.14,0.026],[2010.15,0.036],[2010.15,0.016],[2010.16,0.023],[2010.17,0.029],[2010.18,0.014],[2010.19,0.020],[2010.20,0.026],[2010.21,0.017],[2010.22,0.012],[2010.22,0.024],[2010.23,0.019],[2010.24,0.030],[2010.25,0.022],[2010.26,0.016],[2010.27,0.027],[2010.28,0.034],[2010.29,0.023],[2010.30,0.030],[2010.31,0.019],[2010.32,0.040],[2010.33,0.027],[2010.34,0.034],[2010.35,0.048],[2010.36,0.030],[2010.37,0.038],[2010.38,0.025],[2010.39,0.0126],[2010.39,0.045],[2010.40,0.11],[2010.40,0.035],
  [2010.115,0.035],[2010.125,0.024],[2010.135,0.040],[2010.145,0.020],[2010.155,0.030],[2010.165,0.019],[2010.175,0.025],[2010.185,0.032],[2010.195,0.016],[2010.205,0.022],[2010.215,0.028],[2010.225,0.017],[2010.235,0.025],[2010.245,0.020],[2010.255,0.033],[2010.265,0.024],[2010.275,0.040],[2010.285,0.028],[2010.295,0.022],[2010.305,0.036],[2010.315,0.045],[2010.325,0.032],[2010.335,0.055],[2010.345,0.038],[2010.355,0.030],[2010.365,0.046],[2010.375,0.060],[2010.385,0.040],[2010.395,0.052]];
const conj2010 = [[2010.41,0.055],[2010.42,0.040],[2010.43,0.048],[2010.44,0.065],[2010.45,0.036],[2010.46,0.052],[2010.47,0.044],[2010.48,0.070],[2010.49,0.050],[2010.50,0.038],[2010.51,0.060],[2010.52,0.047],[2010.53,0.078],[2010.54,0.055],[2010.55,0.042],[2010.56,0.062],[2010.57,0.050],[2010.58,0.085],[2010.59,0.057],[2010.60,0.17],[2010.60,0.045],[2010.61,0.066],[2010.62,0.052],[2010.63,0.075],[2010.64,0.058],[2010.65,0.095],[2010.66,0.065],[2010.67,0.050],[2010.68,0.085],[2010.69,0.17],[2010.69,0.11],[2010.70,0.075],[2010.71,0.18],[2010.72,0.26],
  [2010.725,0.40],[2010.73,0.62],[2010.735,1.15],[2010.74,0.88],[2010.745,0.48],[2010.75,0.30],[2010.76,0.19],[2010.77,0.13],
  [2010.78,0.095],[2010.79,0.065],[2010.79,0.14],[2010.80,0.050],[2010.81,0.075],[2010.82,0.042],[2010.82,0.058],[2010.83,0.036],[2010.84,0.068],[2010.85,0.048],[2010.86,0.030],[2010.86,0.14],[2010.87,0.040],[2010.88,0.055],[2010.89,0.034],[2010.90,0.045],[2010.91,0.062],[2010.92,0.030],[2010.93,0.040],[2010.94,0.050],[2010.95,0.027],[2010.96,0.036],[2010.97,0.075],[2010.98,0.042],[2010.99,0.031],[2011.00,0.048],[2011.01,0.035],[2011.02,0.026],[2011.03,0.044],[2011.04,0.055],[2011.05,0.032],[2011.06,0.040],[2011.07,0.028],[2011.08,0.047],[2011.09,0.036],[2011.10,0.025],[2011.11,0.041],[2011.12,0.033],[2011.13,0.030],[2011.13,0.052],[2011.14,0.49],[2011.14,0.40],[2011.14,0.34],[2011.14,0.14],[2011.14,0.024]];
const conj2010b = [[2010.405,0.045],[2010.415,0.068],[2010.425,0.052],[2010.435,0.040],[2010.445,0.058],[2010.455,0.075],[2010.465,0.048],[2010.475,0.060],[2010.485,0.042],[2010.495,0.085],[2010.505,0.055],[2010.515,0.070],[2010.525,0.045],[2010.535,0.062],[2010.545,0.095],[2010.555,0.055],[2010.565,0.075],[2010.575,0.048],[2010.585,0.065],[2010.595,0.11],[2010.605,0.070],[2010.615,0.055],[2010.625,0.090],[2010.635,0.065],[2010.645,0.12],[2010.655,0.080],[2010.665,0.060],[2010.675,0.10],[2010.685,0.14],[2010.695,0.090],[2010.705,0.22],[2010.715,0.13],[2010.725,0.30],[2010.735,0.70],[2010.745,0.36],[2010.755,0.22],[2010.765,0.15],[2010.775,0.10],[2010.785,0.12],[2010.795,0.085],[2010.805,0.060],[2010.815,0.095],[2010.825,0.052],[2010.835,0.075],[2010.845,0.045],[2010.855,0.060],[2010.865,0.038],[2010.875,0.070],[2010.885,0.048],[2010.895,0.058],[2010.905,0.036],[2010.915,0.050],[2010.925,0.068],[2010.935,0.044],[2010.945,0.034],[2010.955,0.058],[2010.965,0.045],[2010.975,0.032],[2010.985,0.052],[2010.995,0.040],[2011.005,0.060],[2011.015,0.042],[2011.025,0.034],[2011.035,0.048],[2011.045,0.038],[2011.055,0.052],[2011.065,0.030],[2011.075,0.044],[2011.085,0.060],[2011.095,0.032],[2011.105,0.045],[2011.115,0.028],[2011.125,0.038],[2011.135,0.046]];

const rmsPoints = [...conj2005, ...conj2005b, ...opp2006, ...conj2006, ...conj2006b, ...opp2007, ...conj2007, ...conj2007b,
  ...opp2008, ...conj2008, ...conj2008b, ...opp2009, ...conj2009, ...conj2009b, ...opp2010, ...conj2010, ...conj2010b];

const FONT = "'Liberation Sans', Arial, Helvetica, sans-serif";
const MONO = "'Liberation Mono', 'Courier New', monospace";
Chart.defaults.font.family = FONT;
Chart.defaults.color = '#222';

function pairs(xs, ys) {
  return xs.map((x, i) => ({ x: x, y: ys[i] }));
}

function expLabel(v) {
  const e = Math.round(Math.log10(v));
  return '1.0e' + (e < 0 ? '-' : '+') + String(Math.abs(e)).padStart(2, '0');
}

// gnuplot-like frame, inward ticks, outer page border and legend
const gnuFrame = {
  id: 'gnuFrame',
  afterDraw(chart) {
    const { ctx, chartArea: a, scales } = chart;
    ctx.save();
    ctx.strokeStyle = '#000';
    ctx.lineWidth = 2;
    ctx.beginPath();
    ctx.moveTo(7, 814); ctx.lineTo(7, 5); ctx.lineTo(1184, 5);
    ctx.stroke();

    ctx.lineWidth = 1.6;
    ctx.strokeRect(a.left, a.top, a.right - a.left, a.bottom - a.top);

    ctx.lineWidth = 1.3;
    ctx.beginPath();
    yearTicks.forEach(v => {
      const px = scales.x.getPixelForValue(v);
      ctx.moveTo(px, a.bottom); ctx.lineTo(px, a.bottom - 9);
      ctx.moveTo(px, a.top); ctx.lineTo(px, a.top + 9);
    });
    decadeTicks.forEach((v, i) => {
      const py = scales.y.getPixelForValue(v);
      ctx.moveTo(a.left, py); ctx.lineTo(a.left + 9, py);
      if (i < decadeTicks.length - 1) {
        for (let k = 2; k <= 9; k++) {
          const pm = scales.y.getPixelForValue(v * k);
          ctx.moveTo(a.left, pm); ctx.lineTo(a.left + 5, pm);
        }
      }
    });
    sepTicks.forEach(v => {
      const py = scales.y2.getPixelForValue(v);
      ctx.moveTo(a.right, py); ctx.lineTo(a.right - 9, py);
    });
    ctx.stroke();

    // legend, gnuplot style: text right-aligned, sample on the right
    ctx.font = '16px ' + FONT;
    ctx.textAlign = 'right';
    ctx.textBaseline = 'middle';
    chart.data.datasets.forEach((ds, i) => {
      const y = 80 + i * 22.6;
      ctx.fillStyle = '#222';
      ctx.fillText(ds.label, 955, y);
      ctx.strokeStyle = ds.borderColor;
      ctx.lineWidth = ds.borderWidth;
      ctx.setLineDash(ds.borderDash || []);
      ctx.beginPath();
      if (ds.showLine === false) {
        ctx.moveTo(996, y - 6); ctx.lineTo(1008, y + 6);
        ctx.moveTo(996, y + 6); ctx.lineTo(1008, y - 6);
      } else {
        ctx.moveTo(970, y); ctx.lineTo(1035, y);
      }
      ctx.stroke();
    });
    ctx.restore();
  }
};

new Chart('myChart', {
  data: {
    datasets: [
      {
        type: 'line', label: 'SEP', yAxisID: 'y2', order: 7,
        data: pairs(sepYear, sepValue),
        borderColor: '#9a9a9a', borderWidth: 1.3, borderDash: [2, 4],
        pointRadius: 0, tension: 0
      },
      {
        type: 'scatter', label: 'RMS of Doppler residuals', yAxisID: 'y', order: 6,
        data: rmsPoints.map(p => ({ x: p[0], y: p[1] })),
        showLine: false, pointStyle: 'crossRot', pointRadius: 6.5,
        borderColor: 'rgba(62, 28, 226, 0.8)', backgroundColor: 'rgba(62, 28, 226, 0.8)', borderWidth: 1.4
      },
      {
        type: 'line', label: 'Wet Troposphere', yAxisID: 'y', order: 5,
        data: pairs(wetYear, wetValue),
        borderColor: '#8ee38e', borderWidth: 1.3, pointRadius: 0, cubicInterpolationMode: 'monotone'
      },
      {
        type: 'line', label: 'Plasma', yAxisID: 'y', order: 4,
        data: pairs(plasmaYear, plasmaValue),
        borderColor: '#f07466', borderWidth: 1.3, pointRadius: 0, cubicInterpolationMode: 'monotone'
      },
      {
        type: 'line', label: 'G/S', yAxisID: 'y', order: 3,
        data: pairs(gsYear, gsValue),
        borderColor: '#9ee4e4', borderWidth: 1.3, pointRadius: 0
      },
      {
        type: 'line', label: 'S/C', yAxisID: 'y', order: 2,
        data: pairs(scYear, scValue),
        borderColor: '#e89a80', borderWidth: 1.2, borderDash: [4, 4], pointRadius: 0
      },
      {
        type: 'line', label: 'Numerical noise', yAxisID: 'y', order: 1,
        data: pairs(numYear, numValue),
        borderColor: '#333333', borderWidth: 1.2, pointRadius: 0, cubicInterpolationMode: 'monotone'
      },
      {
        type: 'line', label: 'Total noise model', yAxisID: 'y', order: 0,
        data: pairs(totalYear, totalValue),
        borderColor: '#ee10e6', borderWidth: 2.2, pointRadius: 0, cubicInterpolationMode: 'monotone'
      }
    ]
  },
  options: {
    responsive: false,
    animation: false,
    layout: { padding: 0 },
    plugins: {
      legend: { display: false },
      tooltip: { enabled: false },
      title: {
        display: true,
        fullSize: false,
        text: '2-way Doppler noise of Cassini X-band Doppler data, Tc=60s (northern hemisphere)',
        font: { size: 22.5, weight: 'normal', lineHeight: 1.2 },
        color: '#222',
        padding: { top: 9, bottom: 21 }
      }
    },
    scales: {
      x: {
        type: 'linear', position: 'bottom', min: 2004.893, max: 2011.30,
        afterBuildTicks: s => { s.ticks = yearTicks.map(v => ({ value: v })); },
        afterFit: s => { s.height = 77; },
        ticks: { callback: v => String(v), font: { size: 20 }, padding: 13, maxRotation: 0, autoSkip: false },
        grid: { display: false, drawTicks: false },
        border: { display: false },
        title: { display: true, text: 'year', font: { size: 21 }, padding: { top: 0, bottom: 5 } }
      },
      y: {
        type: 'logarithmic', position: 'left', min: 1e-3, max: 1e3,
        afterBuildTicks: s => { s.ticks = decadeTicks.map(v => ({ value: v })); },
        afterFit: s => { s.width = 167; },
        ticks: { callback: v => expLabel(v), font: { family: MONO, size: 18.5 }, padding: 15, autoSkip: false },
        grid: { display: false, drawTicks: false },
        border: { display: false },
        title: { display: true, text: '[mm/s]', font: { size: 21 }, padding: { top: 28, bottom: 0 } }
      },
      y2: {
        type: 'linear', position: 'right', min: 0, max: 270,
        afterBuildTicks: s => { s.ticks = sepTicks.map(v => ({ value: v })); },
        afterFit: s => { s.width = 121; },
        ticks: { font: { size: 20 }, padding: 20, autoSkip: false },
        grid: { display: false, drawTicks: false },
        border: { display: false },
        title: { display: true, text: 'SEP', font: { size: 21 }, padding: { top: 19, bottom: 0 } }
      }
    }
  },
  plugins: [gnuFrame]
});
</script>
</body>
</html>
